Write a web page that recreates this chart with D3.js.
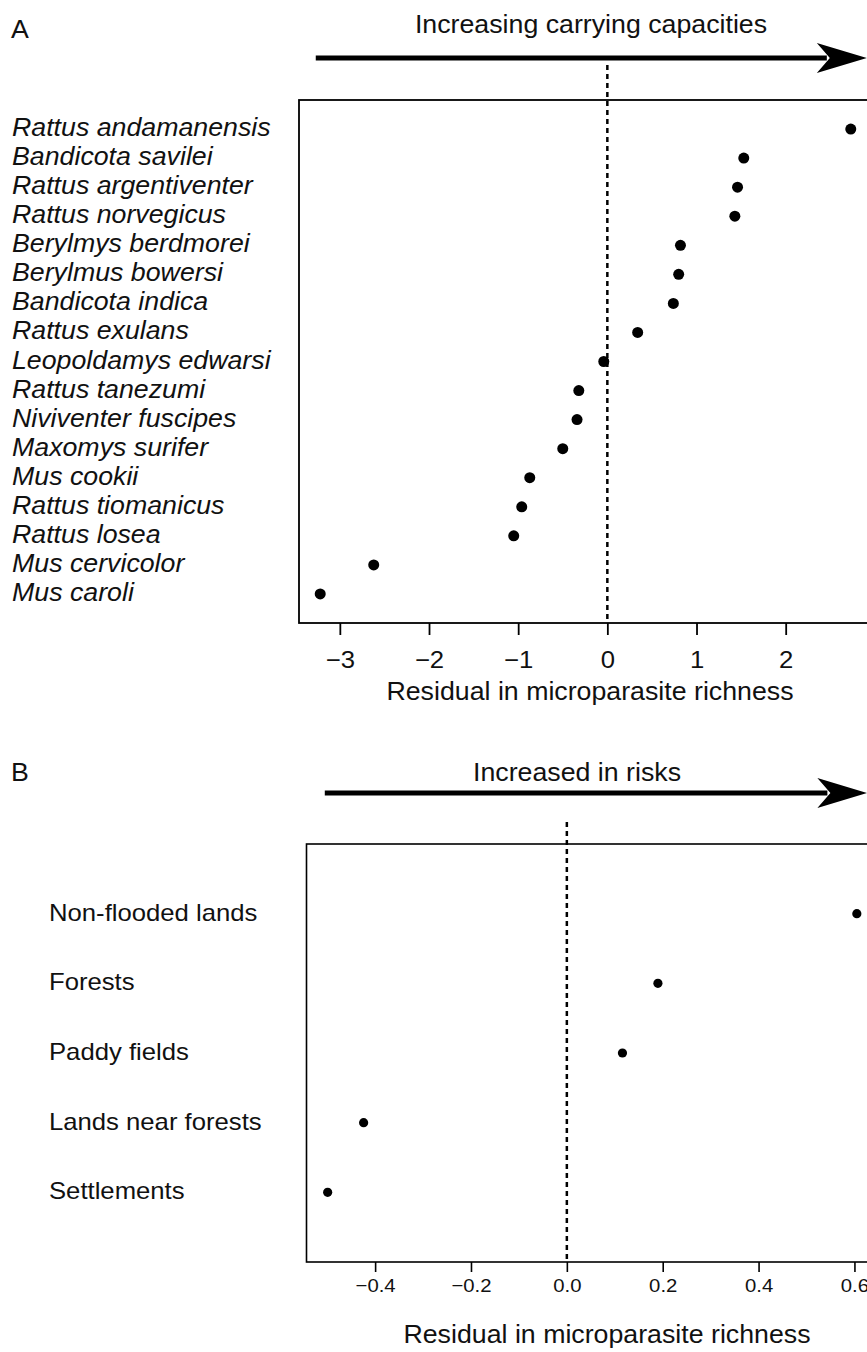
<!DOCTYPE html>
<html>
<head>
<meta charset="utf-8">
<script src="https://cdn.jsdelivr.net/npm/d3@7"></script>
<style>
  body { margin: 0; background: #fff; }
  svg { display: block; }
  text { font-family: "Liberation Sans", Arial, Helvetica, sans-serif; fill: #111; }
</style>
</head>
<body>
<div id="chart"></div>
<script>
// panel A: species, top to bottom
var speciesNames = [
  "Rattus andamanensis", "Bandicota savilei", "Rattus argentiventer", "Rattus norvegicus",
  "Berylmys berdmorei", "Berylmus bowersi", "Bandicota indica", "Rattus exulans",
  "Leopoldamys edwarsi", "Rattus tanezumi", "Niviventer fuscipes", "Maxomys surifer",
  "Mus cookii", "Rattus tiomanicus", "Rattus losea", "Mus cervicolor", "Mus caroli"
];
var speciesResid = [2.73, 1.53, 1.46, 1.43, 0.82, 0.80, 0.74, 0.34, -0.04, -0.32, -0.34,
  -0.50, -0.87, -0.96, -1.05, -2.62, -3.22];

// panel B: habitats, top to bottom
var habitatNames = ["Non-flooded lands", "Forests", "Paddy fields", "Lands near forests", "Settlements"];
var habitatResid = [0.605, 0.19, 0.116, -0.424, -0.499];

var ticksA = [-3, -2, -1, 0, 1, 2];
var ticksB = [-0.4, -0.2, 0.0, 0.2, 0.4, 0.6];

var titleA = "Increasing carrying capacities";
var titleB = "Increased in risks";
var xTitle = "Residual in microparasite richness";

var W = 867, H = 1352;
var stretch = 1.07; // glyphs in the figure are a little wider than Liberation Sans

var svg = d3.select("#chart").append("svg")
  .attr("width", W)
  .attr("height", H);

// R style axis range: data extent padded by 4%
function padExtent(vals) {
  var e = d3.extent(vals);
  var p = (e[1] - e[0]) * 0.04;
  return [e[0] - p, e[1] + p];
}

function label(g, x, y, txt, size, anchor, italic) {
  return g.append("text")
    .attr("transform", "translate(" + x + "," + y + ") scale(" + stretch + ",1)")
    .attr("text-anchor", anchor)
    .attr("font-size", size)
    .attr("font-style", italic ? "italic" : "normal")
    .text(txt);
}

function arrow(g, x0, x1, y) {
  g.append("line")
    .attr("x1", x0).attr("x2", x1 - 40)
    .attr("y1", y).attr("y2", y)
    .attr("stroke", "#000")
    .attr("stroke-width", 5);
  g.append("path")
    .attr("d", "M" + x1 + "," + y +
      " L" + (x1 - 50) + "," + (y - 15) +
      " L" + (x1 - 37) + "," + y +
      " L" + (x1 - 50) + "," + (y + 15) + " Z")
    .attr("fill", "#000");
}

// ---------- Panel A ----------
var gA = svg.append("g");
var xA = d3.scaleLinear().domain(padExtent(speciesResid)).range([299, 872]);
var yA = d3.scaleLinear().domain([0, speciesNames.length + 1]).range([623, 100]);

label(gA, 11, 38, "A", 25, "start", false);
label(gA, 591, 33, titleA, 25, "middle", false);
arrow(gA, xA(-3.27), xA(2.91), 58);

gA.append("rect")
  .attr("x", xA.range()[0]).attr("y", yA.range()[1])
  .attr("width", xA.range()[1] - xA.range()[0])
  .attr("height", yA.range()[0] - yA.range()[1])
  .attr("fill", "none")
  .attr("stroke", "#000")
  .attr("stroke-width", 1.8);

gA.append("line")
  .attr("x1", xA(0)).attr("x2", xA(0))
  .attr("y1", 65).attr("y2", yA.range()[0])
  .attr("stroke", "#000")
  .attr("stroke-width", 2.5)
  .attr("stroke-dasharray", "5,4");

speciesNames.forEach(function(d, i) {
  var row = speciesNames.length - i;
  label(gA, 12, yA(row) + 7, d, 25, "start", true);
});

gA.selectAll(".dotA")
  .data(speciesResid)
  .enter()
  .append("circle")
  .attr("class", "dotA")
  .attr("cx", function(d) { return xA(d); })
  .attr("cy", function(d, i) { return yA(speciesNames.length - i); })
  .attr("r", 5.5)
  .attr("fill", "#000");

var axA = gA.append("g")
  .attr("transform", "translate(0," + yA.range()[0] + ")")
  .call(d3.axisBottom(xA).tickValues(ticksA).tickSize(12).tickSizeOuter(0).tickPadding(16).tickFormat(d3.format("d")));
axA.select(".domain").remove();
axA.selectAll("line").attr("stroke-width", 1.8);
axA.selectAll("text")
  .attr("font-size", 24)
  .attr("transform", "scale(" + stretch + ",1)")
  .attr("font-family", "Liberation Sans, Arial, sans-serif")
  .attr("fill", "#111");

label(gA, 590, 700, xTitle, 25, "middle", false);

// ---------- Panel B ----------
var gB = svg.append("g");
var xB = d3.scaleLinear().domain(padExtent(habitatResid)).range([306.5, 878]);
var yB = d3.scaleLinear().domain([0, habitatNames.length + 1]).range([1262, 844]);

label(gB, 11, 781, "B", 25, "start", false);
label(gB, 577, 781, titleB, 25, "middle", false);
arrow(gB, xB(-0.505), xB(0.627), 793);

gB.append("rect")
  .attr("x", xB.range()[0]).attr("y", yB.range()[1])
  .attr("width", xB.range()[1] - xB.range()[0])
  .attr("height", yB.range()[0] - yB.range()[1])
  .attr("fill", "none")
  .attr("stroke", "#000")
  .attr("stroke-width", 1.6);

gB.append("line")
  .attr("x1", xB(0)).attr("x2", xB(0))
  .attr("y1", 822).attr("y2", yB.range()[0])
  .attr("stroke", "#000")
  .attr("stroke-width", 2.5)
  .attr("stroke-dasharray", "5,4");

habitatNames.forEach(function(d, i) {
  var row = habitatNames.length - i;
  label(gB, 49, yB(row) + 7, d, 24, "start", false);
});

gB.selectAll(".dotB")
  .data(habitatResid)
  .enter()
  .append("circle")
  .attr("class", "dotB")
  .attr("cx", function(d) { return xB(d); })
  .attr("cy", function(d, i) { return yB(habitatNames.length - i); })
  .attr("r", 4.6)
  .attr("fill", "#000");

var axB = gB.append("g")
  .attr("transform", "translate(0," + yB.range()[0] + ")")
  .call(d3.axisBottom(xB).tickValues(ticksB).tickSize(10).tickSizeOuter(0).tickPadding(7).tickFormat(d3.format(".1f")));
axB.select(".domain").remove();
axB.selectAll("line").attr("stroke-width", 1.6);
axB.selectAll("text")
  .attr("font-size", 19)
  .attr("transform", "scale(" + stretch + ",1)")
  .attr("font-family", "Liberation Sans, Arial, sans-serif")
  .attr("fill", "#111");

label(gB, 607, 1343, xTitle, 25, "middle", false);
</script>
</body>
</html>
